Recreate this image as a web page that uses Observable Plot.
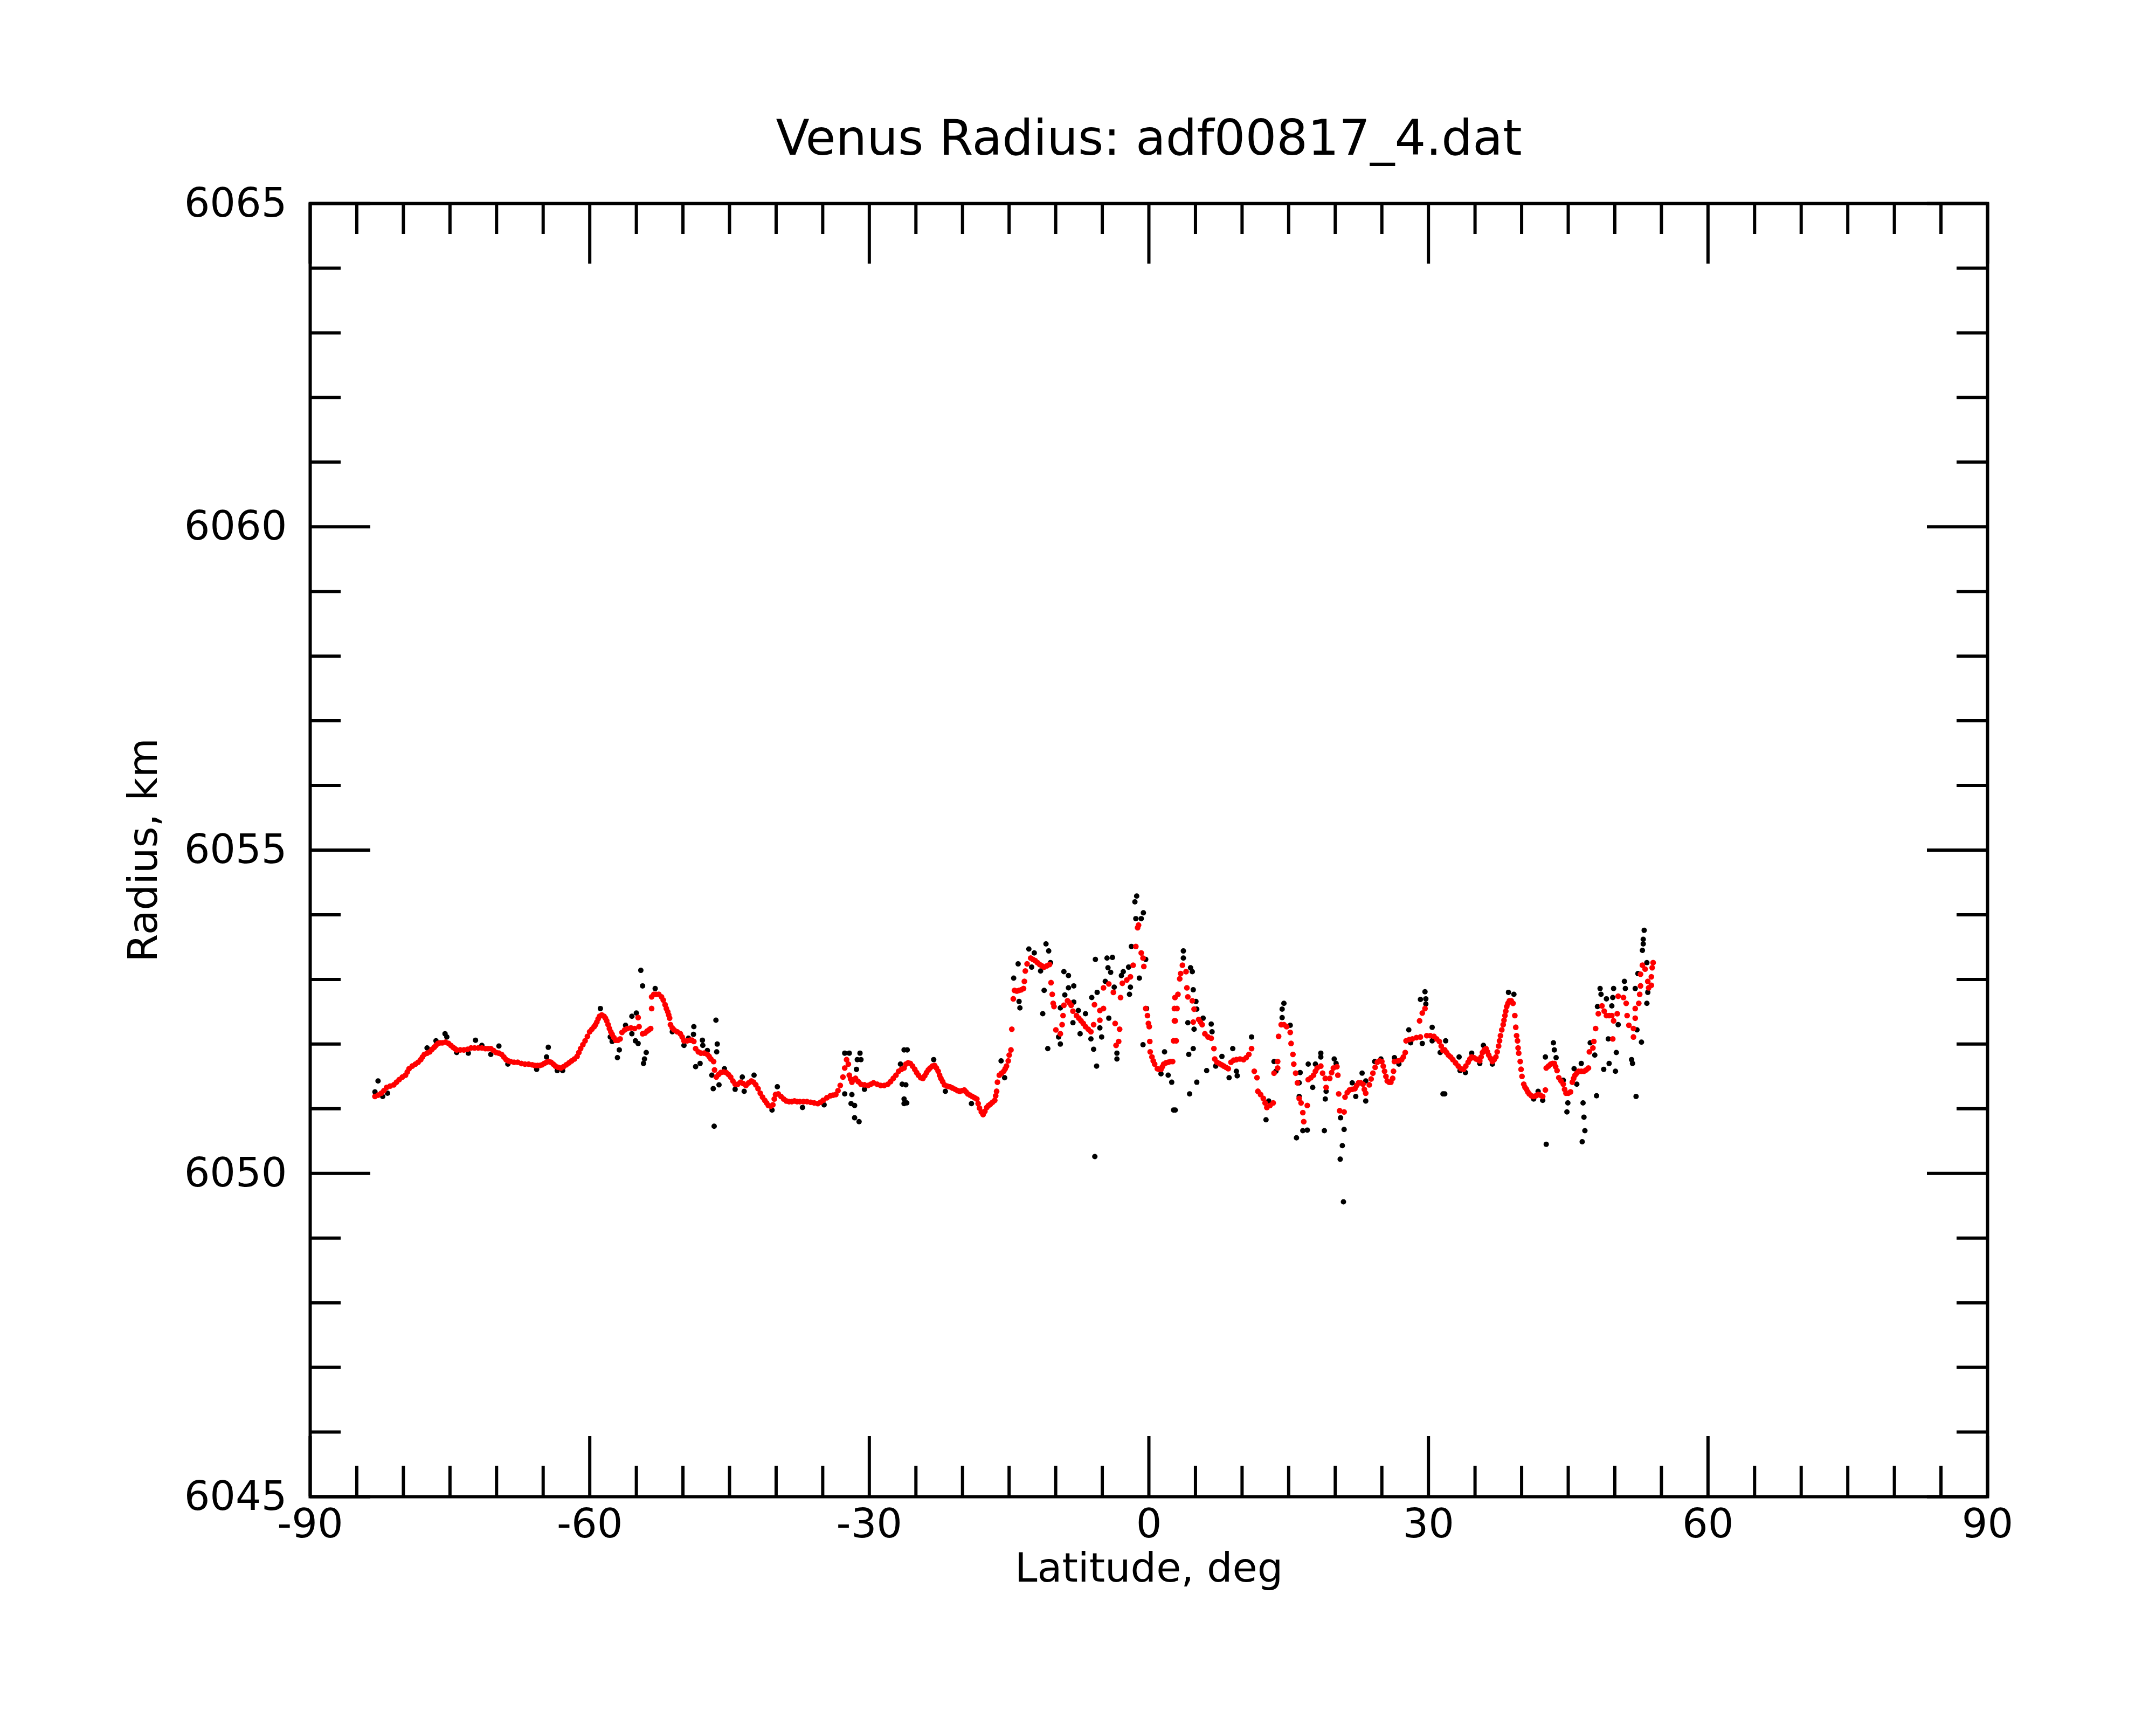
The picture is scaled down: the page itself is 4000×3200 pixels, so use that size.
<!DOCTYPE html>
<html>
<head>
<meta charset="utf-8">
<script src="https://cdn.jsdelivr.net/npm/d3@7"></script>
<script src="https://cdn.jsdelivr.net/npm/@observablehq/plot@0.6"></script>
<style>
  html, body { margin: 0; padding: 0; background: #fff; }
  #chart { width: 4000px; height: 3200px; }
</style>
</head>
<body>
<div id="chart"></div>
<script>
const titleText = "Venus Radius: adf00817_4.dat";
const xLabel = "Latitude, deg";
const yLabel = "Radius, km";

const xMajor = [-90, -60, -30, 0, 30, 60, 90];
const xMinor = [-85, -80, -75, -70, -65, -55, -50, -45, -40, -35, -25, -20, -15, -10, -5, 5, 10, 15, 20, 25, 35, 40, 45, 50, 55, 65, 70, 75, 80, 85];
const yMajor = [6045, 6050, 6055, 6060, 6065];
const yMinor = [6046, 6047, 6048, 6049, 6051, 6052, 6053, 6054, 6056, 6057, 6058, 6059, 6061, 6062, 6063, 6064];

// raw radius samples (black)
const blackPoints = [
  [-82.72, 6051.43], [-83.05, 6051.26], [-82.22, 6051.19], [-81.70, 6051.24], [-77.46, 6051.94],
  [-75.53, 6052.16], [-75.34, 6052.11], [-76.50, 6052.05], [-74.28, 6051.87], [-73.03, 6051.86],
  [-72.26, 6052.06], [-71.58, 6051.98], [-69.75, 6051.97], [-70.62, 6051.84], [-68.79, 6051.69],
  [-65.70, 6051.61], [-64.45, 6051.95], [-64.64, 6051.80], [-63.49, 6051.59], [-62.91, 6051.59],
  [-58.86, 6052.55], [-57.80, 6052.11], [-57.60, 6052.04], [-56.83, 6051.91], [-57.03, 6051.79],
  [-55.48, 6052.43], [-56.16, 6052.29], [-55.48, 6052.16], [-55.10, 6052.05],
  [-54.52, 6053.14], [-54.33, 6052.90], [-54.81, 6052.01], [-53.94, 6051.87], [-54.13, 6051.77],
  [-54.23, 6051.70], [-55.00, 6052.48], [-52.98, 6052.86], [-51.14, 6052.19], [-48.83, 6052.27],
  [-48.87, 6052.15], [-49.41, 6052.09], [-49.89, 6051.98], [-47.91, 6052.06], [-47.87, 6051.98],
  [-48.16, 6051.70], [-48.64, 6051.65], [-47.38, 6051.90], [-46.46, 6052.37], [-46.32, 6052.00],
  [-46.38, 6051.88], [-46.90, 6051.52], [-46.75, 6051.31], [-46.13, 6051.37], [-46.65, 6050.73],
  [-45.55, 6051.62], [-43.63, 6051.49], [-42.37, 6051.52], [-44.40, 6051.30], [-43.43, 6051.27],
  [-40.44, 6050.98], [-39.87, 6051.34], [-37.17, 6051.02], [-34.85, 6051.06], [-32.64, 6051.86],
  [-32.15, 6051.86], [-31.00, 6051.86], [-31.29, 6051.76], [-30.90, 6051.76], [-31.38, 6051.61],
  [-32.64, 6051.23], [-31.87, 6051.22], [-31.96, 6051.08], [-31.58, 6051.05], [-31.58, 6050.86],
  [-31.10, 6050.80], [-30.52, 6051.30], [-26.66, 6051.69], [-26.27, 6051.91], [-26.47, 6051.38],
  [-26.27, 6051.15], [-26.27, 6051.08],
  [-25.93, 6051.91], [-26.08, 6051.37], [-25.98, 6051.09], [-23.09, 6051.76], [-21.84, 6051.27],
  [-19.04, 6051.08], [-15.86, 6051.74], [-15.48, 6051.48], [-14.51, 6053.02], [-14.03, 6053.24],
  [-12.88, 6053.47], [-12.30, 6053.41], [-11.04, 6053.55], [-10.75, 6053.44], [-12.58, 6053.19],
  [-11.62, 6053.13], [-10.56, 6053.26], [-13.93, 6052.66], [-13.84, 6052.56], [-11.24, 6052.83],
  [-11.39, 6052.47], [-10.85, 6051.93], [-9.50, 6052.00], [-9.69, 6052.11], [-9.12, 6053.12],
  [-8.63, 6053.06], [-8.63, 6052.87], [-8.06, 6052.90], [-9.02, 6052.76], [-9.50, 6052.56],
  [-8.06, 6052.65], [-7.57, 6052.52], [-6.80, 6052.47], [-8.15, 6052.33], [-7.38, 6052.16],
  [-6.22, 6052.08], [-5.93, 6051.92], [-5.61, 6051.66], [-5.80, 6050.26], [-5.74, 6053.31],
  [-4.49, 6053.33], [-3.91, 6053.34], [-4.39, 6053.18], [-4.10, 6053.11], [-6.13, 6052.72],
  [-5.55, 6052.80], [-4.30, 6052.40], [-5.26, 6052.25], [-5.07, 6052.11], [-4.68, 6052.97],
  [-3.72, 6052.88], [-2.75, 6053.12], [-2.95, 6053.06], [-1.98, 6052.88], [-2.08, 6052.77],
  [-2.18, 6053.19], [-1.02, 6053.02], [-0.34, 6053.31], [-3.43, 6051.86], [-3.43, 6051.77],
  [-1.88, 6053.51], [-1.31, 6054.29], [-1.50, 6054.20], [-0.59, 6054.03], [-1.40, 6053.94],
  [-0.82, 6053.94], [-0.63, 6051.99], [-0.25, 6052.55], [1.68, 6051.88], [2.07, 6051.52],
  [2.45, 6051.41], [2.65, 6050.98], [1.30, 6051.54],
  [3.70, 6053.44], [3.70, 6053.33], [4.66, 6053.12], [4.47, 6053.18], [4.76, 6052.84],
  [5.05, 6052.66], [5.14, 6052.54], [5.82, 6052.40], [6.69, 6052.31], [6.78, 6052.19],
  [4.18, 6052.33], [4.85, 6052.23], [4.76, 6051.93], [4.28, 6051.84], [6.20, 6051.59],
  [5.14, 6051.41], [4.37, 6051.23], [2.83, 6050.98], [7.17, 6051.66], [7.84, 6051.81],
  [9.00, 6051.93], [9.39, 6051.58], [9.48, 6051.51], [8.61, 6051.48], [11.02, 6052.11],
  [12.57, 6050.83], [12.86, 6051.12], [13.43, 6051.73], [13.63, 6051.58], [14.49, 6052.63],
  [14.30, 6052.54], [14.30, 6052.41], [15.17, 6052.29], [16.23, 6051.56], [16.13, 6051.40],
  [15.84, 6050.55], [16.52, 6050.66], [17.00, 6050.67], [16.13, 6051.19], [17.10, 6051.69],
  [17.87, 6051.69], [18.45, 6051.86], [18.45, 6051.80], [17.58, 6051.33], [19.02, 6051.27],
  [18.93, 6051.15], [18.83, 6050.66], [19.89, 6051.77], [20.09, 6051.70], [20.57, 6050.86],
  [20.95, 6050.68], [20.76, 6050.43], [20.53, 6050.22], [20.88, 6049.56], [21.82, 6051.40],
  [22.20, 6051.19], [22.88, 6051.55], [23.27, 6051.12], [23.27, 6051.43], [24.23, 6051.73],
  [24.90, 6051.77], [26.35, 6051.79], [26.83, 6051.69], [27.89, 6052.22], [28.09, 6052.02],
  [29.14, 6052.69], [29.63, 6052.81], [29.72, 6052.70], [29.72, 6052.62], [29.34, 6052.01],
  [30.40, 6052.26], [30.40, 6052.05], [31.26, 6051.87], [31.56, 6051.23],
  [31.75, 6051.23], [31.85, 6052.05], [33.29, 6051.80], [33.39, 6051.59], [33.97, 6051.56],
  [34.64, 6051.86], [35.90, 6051.98], [36.86, 6051.69], [35.51, 6051.70], [38.59, 6052.80],
  [39.17, 6052.77], [41.29, 6051.15], [41.77, 6051.27], [42.26, 6051.13], [42.64, 6050.45],
  [42.55, 6051.80], [43.41, 6052.02], [43.51, 6051.91], [43.70, 6051.79], [44.47, 6051.44],
  [45.92, 6051.38], [44.96, 6051.09], [44.86, 6050.95], [45.63, 6051.62], [46.40, 6051.70],
  [46.59, 6051.09], [46.69, 6050.87], [46.79, 6050.66], [46.50, 6050.49], [48.04, 6051.20],
  [47.85, 6051.83], [47.36, 6052.02], [48.42, 6052.86], [48.52, 6052.77], [49.10, 6052.70],
  [48.14, 6052.58], [49.87, 6052.86], [49.78, 6052.72], [49.68, 6052.59], [50.36, 6052.30],
  [49.30, 6052.08], [48.81, 6051.61], [49.39, 6051.70], [50.16, 6051.87], [50.07, 6051.58],
  [51.03, 6052.97], [51.13, 6052.86], [52.19, 6052.86], [51.80, 6051.76], [51.90, 6051.70],
  [52.28, 6051.19], [52.86, 6052.03], [52.38, 6052.22], [53.15, 6053.76], [53.05, 6053.62],
  [53.05, 6053.55], [52.96, 6053.45], [53.44, 6053.26], [53.44, 6052.63], [53.54, 6052.80],
  [52.48, 6053.09]
];

// filtered radius (red)
const redPoints = [
  [-83.05, 6051.19], [-82.38, 6051.24], [-81.80, 6051.33], [-81.03, 6051.37], [-80.45, 6051.45],
  [-79.77, 6051.52], [-79.39, 6051.62], [-78.71, 6051.69], [-78.14, 6051.76], [-77.75, 6051.84],
  [-77.17, 6051.88], [-76.69, 6051.95], [-76.30, 6052.01], [-75.82, 6052.02], [-75.15, 6052.01],
  [-74.67, 6051.95], [-74.28, 6051.91], [-73.51, 6051.91], [-72.74, 6051.94], [-71.97, 6051.94],
  [-71.20, 6051.93], [-70.62, 6051.93], [-70.04, 6051.87], [-69.46, 6051.84], [-68.98, 6051.76],
  [-68.50, 6051.73], [-67.73, 6051.72], [-66.95, 6051.69], [-66.18, 6051.68], [-65.61, 6051.67],
  [-65.12, 6051.68], [-64.64, 6051.72], [-64.16, 6051.72], [-63.68, 6051.66], [-63.10, 6051.63],
  [-62.52, 6051.68], [-61.94, 6051.74], [-61.36, 6051.81], [-60.98, 6051.93], [-60.50, 6052.05],
  [-60.01, 6052.19], [-59.53, 6052.27], [-59.24, 6052.34], [-58.95, 6052.43], [-58.47, 6052.43],
  [-58.18, 6052.36], [-57.89, 6052.24], [-57.60, 6052.15], [-57.22, 6052.06], [-56.74, 6052.08],
  [-56.54, 6052.18], [-55.96, 6052.24], [-55.19, 6052.24],
  [-82.72, 6051.21], [-82.09, 6051.28], [-81.42, 6051.35], [-80.74, 6051.41], [-80.11, 6051.49],
  [-79.58, 6051.57], [-79.05, 6051.66], [-78.42, 6051.72], [-77.95, 6051.80], [-77.46, 6051.86],
  [-76.93, 6051.92], [-76.50, 6051.98], [-76.06, 6052.02], [-75.48, 6052.03], [-74.91, 6051.98],
  [-74.48, 6051.93], [-73.90, 6051.91], [-73.12, 6051.92], [-72.36, 6051.94], [-71.58, 6051.94],
  [-70.91, 6051.93], [-70.33, 6051.90], [-69.75, 6051.86], [-69.22, 6051.80], [-68.74, 6051.74],
  [-68.12, 6051.72], [-67.34, 6051.70], [-66.56, 6051.69], [-65.90, 6051.67], [-65.37, 6051.67],
  [-64.88, 6051.70], [-64.40, 6051.73], [-63.92, 6051.69], [-63.39, 6051.64], [-62.81, 6051.65],
  [-62.23, 6051.71], [-61.65, 6051.77], [-61.17, 6051.87], [-60.74, 6051.99], [-60.25, 6052.12],
  [-59.77, 6052.23], [-59.38, 6052.30], [-59.10, 6052.39], [-58.71, 6052.45], [-58.32, 6052.40],
  [-58.03, 6052.30], [-57.74, 6052.19], [-57.41, 6052.10], [-56.98, 6052.06], [-56.25, 6052.22],
  [-55.58, 6052.25],
  [-54.81, 6052.41], [-54.71, 6052.27], [-54.33, 6052.16], [-53.84, 6052.20], [-53.46, 6052.24],
  [-53.36, 6052.55], [-53.36, 6052.73], [-52.88, 6052.77], [-52.30, 6052.73], [-51.92, 6052.61],
  [-51.63, 6052.50], [-51.43, 6052.40], [-51.34, 6052.30], [-50.95, 6052.22], [-50.28, 6052.16],
  [-49.89, 6052.05], [-49.22, 6052.06], [-48.83, 6052.04], [-48.64, 6051.93], [-48.06, 6051.86],
  [-47.38, 6051.84], [-47.00, 6051.77], [-46.71, 6051.73], [-46.61, 6051.60], [-46.42, 6051.49],
  [-45.94, 6051.56], [-45.36, 6051.56], [-44.88, 6051.49], [-44.40, 6051.38], [-43.82, 6051.41],
  [-43.24, 6051.36], [-42.66, 6051.43], [-42.18, 6051.37], [-41.70, 6051.24], [-41.22, 6051.13],
  [-40.83, 6051.05], [-40.35, 6051.06], [-40.06, 6051.22], [-39.77, 6051.23], [-39.19, 6051.15],
  [-38.61, 6051.11], [-38.03, 6051.12], [-37.46, 6051.11], [-36.69, 6051.11], [-35.91, 6051.09],
  [-35.53, 6051.08], [-34.95, 6051.13], [-34.18, 6051.20], [-33.60, 6051.22], [-33.12, 6051.36],
  [-32.83, 6051.49], [-32.64, 6051.63], [-32.44, 6051.76], [-32.25, 6051.69], [-32.15, 6051.52],
  [-31.87, 6051.41], [-31.48, 6051.47], [-30.90, 6051.38], [-30.13, 6051.36], [-29.55, 6051.40],
  [-28.78, 6051.36], [-28.01, 6051.38], [-27.43, 6051.47], [-26.85, 6051.58], [-26.27, 6051.63],
  [-54.08, 6052.17], [-53.65, 6052.22], [-53.12, 6052.77], [-52.59, 6052.77], [-52.11, 6052.68],
  [-51.78, 6052.55], [-51.53, 6052.45], [-51.15, 6052.25], [-50.62, 6052.19], [-50.08, 6052.11],
  [-49.55, 6052.05], [-49.02, 6052.06], [-48.35, 6051.88], [-47.72, 6051.86], [-47.19, 6051.81],
  [-46.18, 6051.53], [-45.65, 6051.57], [-45.12, 6051.53], [-44.64, 6051.43], [-44.11, 6051.38],
  [-43.53, 6051.39], [-42.95, 6051.40], [-42.42, 6051.41], [-41.94, 6051.31], [-41.46, 6051.18],
  [-41.02, 6051.09], [-40.59, 6051.04], [-40.20, 6051.15], [-39.48, 6051.19], [-38.90, 6051.12],
  [-38.32, 6051.11], [-37.75, 6051.11], [-37.07, 6051.11], [-36.30, 6051.10], [-35.24, 6051.10],
  [-34.56, 6051.17], [-33.89, 6051.21], [-33.36, 6051.28], [-32.01, 6051.46], [-31.68, 6051.45],
  [-31.19, 6051.42], [-30.52, 6051.37], [-29.84, 6051.38], [-29.16, 6051.38], [-28.40, 6051.36],
  [-27.72, 6051.42], [-27.14, 6051.52], [-26.56, 6051.61],
  [-26.08, 6051.69], [-25.60, 6051.70], [-25.12, 6051.61], [-24.73, 6051.52], [-24.25, 6051.47],
  [-23.86, 6051.56], [-23.48, 6051.63], [-22.99, 6051.67], [-22.61, 6051.58], [-22.32, 6051.47],
  [-21.94, 6051.37], [-21.36, 6051.34], [-20.78, 6051.30], [-20.30, 6051.27], [-19.81, 6051.29],
  [-19.43, 6051.23], [-18.95, 6051.19], [-18.46, 6051.15], [-18.18, 6051.01], [-17.79, 6050.91],
  [-17.40, 6051.02], [-17.02, 6051.07], [-16.54, 6051.13], [-16.34, 6051.27], [-16.25, 6051.41],
  [-16.05, 6051.52], [-15.57, 6051.58], [-15.28, 6051.66], [-15.09, 6051.74], [-14.99, 6051.83],
  [-14.80, 6051.91], [-14.71, 6052.23], [-14.55, 6052.70], [-14.42, 6052.83], [-13.93, 6052.83],
  [-13.45, 6052.86], [-13.36, 6052.97], [-13.26, 6053.13], [-13.07, 6053.24], [-12.68, 6053.33],
  [-12.20, 6053.29], [-11.72, 6053.23], [-11.24, 6053.19], [-10.66, 6053.23], [-10.50, 6052.95],
  [-10.37, 6052.77], [-10.27, 6052.63], [-10.18, 6052.58], [-9.98, 6052.22], [-9.50, 6052.16],
  [-9.31, 6052.30], [-9.21, 6052.44], [-9.12, 6052.60], [-8.73, 6052.67], [-8.34, 6052.60],
  [-8.15, 6052.51], [-7.77, 6052.44], [-7.28, 6052.36], [-6.80, 6052.27], [-6.22, 6052.19],
  [-5.93, 6052.30], [-5.84, 6052.61], [-5.26, 6052.52], [-4.87, 6052.55], [-5.26, 6052.37],
  [-4.87, 6052.87], [-4.30, 6052.93], [-3.81, 6052.80], [-3.62, 6052.32], [-3.14, 6052.23],
  [-3.24, 6052.04], [-3.52, 6051.98], [-3.04, 6052.72], [-2.85, 6052.94], [-2.37, 6052.99],
  [-1.98, 6053.04], [-1.69, 6053.22], [-1.40, 6053.51], [-0.82, 6053.41], [-0.63, 6053.33],
  [-0.54, 6053.20], [-1.21, 6053.80], [-1.11, 6053.84], [-0.34, 6052.55], [-0.15, 6052.44],
  [-0.05, 6052.32], [0.04, 6052.27], [0.10, 6052.04], [0.14, 6051.88], [0.33, 6051.80],
  [0.62, 6051.69], [0.91, 6051.62], [1.30, 6051.61], [1.59, 6051.69], [2.07, 6051.72],
  [2.55, 6051.73], [2.74, 6052.36], [2.74, 6052.55], [2.80, 6052.72], [2.65, 6052.05],
  [-25.84, 6051.71], [-25.36, 6051.66], [-24.92, 6051.56], [-24.49, 6051.48], [-24.05, 6051.51],
  [-23.67, 6051.60], [-23.23, 6051.66], [-22.80, 6051.63], [-22.46, 6051.52], [-22.13, 6051.42],
  [-21.65, 6051.35], [-21.07, 6051.32], [-20.54, 6051.28], [-20.05, 6051.28], [-19.62, 6051.26],
  [-19.19, 6051.21], [-18.70, 6051.17], [-18.32, 6051.08], [-17.98, 6050.95], [-17.60, 6050.96],
  [-17.21, 6051.05], [-16.78, 6051.10], [-16.44, 6051.20], [-15.81, 6051.55], [-15.42, 6051.62],
  [-14.17, 6052.82], [-13.69, 6052.84], [-12.44, 6053.31], [-11.96, 6053.26], [-11.48, 6053.21],
  [-10.95, 6053.21], [-8.53, 6052.64], [-7.52, 6052.40], [-7.04, 6052.32], [-6.51, 6052.23],
  [0.47, 6051.74], [1.10, 6051.61], [1.45, 6051.65], [1.83, 6051.71], [2.31, 6051.73],
  [2.93, 6052.05], [2.83, 6052.36], [3.02, 6052.55], [3.12, 6052.77], [3.31, 6053.01],
  [3.41, 6053.09], [3.60, 6053.22], [3.99, 6053.12], [4.08, 6052.87], [4.18, 6052.73],
  [4.66, 6052.67], [4.85, 6052.54], [4.76, 6052.34], [5.34, 6052.38], [5.72, 6052.30],
  [6.01, 6052.16], [6.69, 6052.09], [6.98, 6051.93], [7.07, 6051.77], [7.55, 6051.70],
  [8.04, 6051.66], [8.52, 6051.62], [8.81, 6051.72], [9.39, 6051.76], [10.16, 6051.76],
  [10.73, 6051.84], [11.02, 6051.93], [11.31, 6051.58], [11.60, 6051.48], [11.70, 6051.27],
  [12.28, 6051.16], [12.66, 6051.02], [13.34, 6051.09], [13.43, 6051.55], [13.82, 6051.63],
  [13.82, 6051.73], [13.92, 6052.12], [14.20, 6052.30], [14.78, 6052.27], [15.17, 6052.18],
  [15.26, 6052.01], [15.46, 6051.84], [15.55, 6051.69], [15.75, 6051.55], [15.94, 6051.40],
  [16.13, 6051.16], [16.33, 6051.09], [17.00, 6051.05], [16.52, 6050.94], [16.62, 6050.80],
  [17.10, 6051.45], [17.67, 6051.52], [18.06, 6051.63], [18.45, 6051.66], [18.64, 6051.55],
  [18.93, 6051.47], [19.02, 6051.33], [19.41, 6051.47], [19.80, 6051.63], [20.18, 6051.65],
  [20.28, 6051.52], [20.37, 6051.23], [20.47, 6050.97], [20.95, 6050.95], [21.05, 6051.18],
  [21.53, 6051.29], [22.11, 6051.31], [22.50, 6051.40], [22.98, 6051.38], [23.27, 6051.24],
  [23.65, 6051.37], [24.04, 6051.55], [24.52, 6051.72], [25.00, 6051.73], [25.29, 6051.58],
  [25.58, 6051.43], [25.97, 6051.41], [26.16, 6051.47], [26.25, 6051.58], [26.35, 6051.73],
  [27.12, 6051.76], [27.51, 6051.87], [27.60, 6052.05], [28.28, 6052.08], [29.14, 6052.11],
  [29.05, 6052.36], [29.34, 6052.48], [29.63, 6052.55], [29.82, 6052.13], [30.59, 6052.12],
  [31.17, 6052.04], [31.56, 6051.90],
  [5.53, 6052.34], [6.35, 6052.11], [7.31, 6051.72], [7.80, 6051.68], [8.28, 6051.64],
  [9.10, 6051.75], [9.78, 6051.77], [10.45, 6051.79], [11.99, 6051.22], [12.47, 6051.09],
  [13.00, 6051.05], [14.49, 6052.30], [17.39, 6051.48], [17.87, 6051.58], [19.61, 6051.56],
  [21.29, 6051.25], [21.82, 6051.30], [22.30, 6051.36], [22.74, 6051.40], [23.12, 6051.30],
  [23.85, 6051.46], [24.28, 6051.64], [24.76, 6051.74], [25.15, 6051.66], [25.44, 6051.50],
  [25.78, 6051.41], [26.74, 6051.74], [27.31, 6051.80], [27.94, 6052.07], [28.71, 6052.10],
  [30.20, 6052.13], [30.88, 6052.08], [31.37, 6051.97],
  [31.75, 6051.91], [32.14, 6051.83], [32.62, 6051.76], [33.20, 6051.66], [33.77, 6051.61],
  [34.26, 6051.72], [34.64, 6051.80], [35.12, 6051.77], [35.51, 6051.74], [35.80, 6051.87],
  [36.18, 6051.93], [36.47, 6051.83], [36.86, 6051.73], [37.24, 6051.80], [37.53, 6051.97],
  [37.73, 6052.13], [38.02, 6052.30], [38.21, 6052.44], [38.40, 6052.58], [38.69, 6052.67],
  [39.08, 6052.63], [39.27, 6052.44], [39.37, 6052.26], [39.46, 6052.13], [39.56, 6052.05],
  [39.62, 6051.94], [39.69, 6051.86], [39.85, 6051.73], [39.94, 6051.61], [40.04, 6051.50],
  [40.23, 6051.38], [40.52, 6051.30], [40.81, 6051.23], [41.29, 6051.19], [41.77, 6051.22],
  [42.26, 6051.19], [42.55, 6051.29], [42.64, 6051.63], [43.12, 6051.69], [43.51, 6051.70],
  [43.80, 6051.59], [43.99, 6051.48], [44.47, 6051.38], [44.76, 6051.24], [45.25, 6051.26],
  [45.44, 6051.41], [45.73, 6051.52], [46.11, 6051.58], [46.69, 6051.58], [47.17, 6051.63],
  [47.27, 6051.88], [47.65, 6051.94], [47.75, 6052.04], [47.94, 6052.24], [48.23, 6052.47],
  [48.62, 6052.59], [49.10, 6052.44], [49.68, 6052.44], [50.26, 6052.47], [49.87, 6052.36],
  [49.78, 6052.08], [50.36, 6052.74], [50.93, 6052.72], [51.22, 6052.63], [51.32, 6052.44],
  [51.51, 6052.29], [52.00, 6052.24], [52.00, 6052.11], [52.19, 6052.40], [52.19, 6052.55],
  [52.57, 6052.63], [52.67, 6052.77], [52.76, 6052.90], [52.76, 6053.08], [52.96, 6053.22],
  [53.25, 6053.16], [53.54, 6052.97], [53.92, 6052.91], [53.92, 6053.04], [54.01, 6053.18],
  [54.11, 6053.26], [53.63, 6052.87],
  [31.95, 6051.87], [32.38, 6051.80], [32.91, 6051.71], [33.49, 6051.62], [34.01, 6051.66],
  [34.45, 6051.77], [34.88, 6051.79], [35.31, 6051.76], [35.65, 6051.80], [35.99, 6051.91],
  [36.33, 6051.88], [36.66, 6051.78], [37.05, 6051.76], [37.38, 6051.88], [37.63, 6052.05],
  [37.87, 6052.22], [38.11, 6052.37], [38.30, 6052.51], [38.54, 6052.63], [38.88, 6052.67],
  [40.37, 6051.33], [40.66, 6051.26], [41.05, 6051.20], [41.53, 6051.20], [42.01, 6051.21],
  [42.88, 6051.66], [43.31, 6051.70], [43.65, 6051.65], [44.23, 6051.43], [44.61, 6051.30],
  [45.00, 6051.24], [45.58, 6051.47], [45.92, 6051.55], [46.40, 6051.58], [46.93, 6051.60],
  [48.86, 6052.51], [49.39, 6052.44]
];

const W = 4000, H = 3200;
const mL = 575, mR = 313, mT = 377, mB = 424;
const frameH = H - mT - mB;
const frameW = W - mL - mR;
const minorLen = 57, majorLen = 112, tickW = 6;

const chart = Plot.plot({
  width: W,
  height: H,
  marginLeft: mL,
  marginRight: mR,
  marginTop: mT,
  marginBottom: mB,
  style: {fontFamily: "DejaVu Sans", fontSize: "75px", background: "#fff", color: "#000"},
  x: {domain: [-90, 90], label: null},
  y: {domain: [6045, 6065], label: null},
  marks: [
    Plot.dot(blackPoints, {x: d => d[0], y: d => d[1], r: 5, fill: "black", stroke: "none"}),
    Plot.dot(redPoints, {x: d => d[0], y: d => d[1], r: 5.3, fill: "red", stroke: "none"}),
    // inward ticks, bottom and top
    Plot.ruleX(xMinor, {insetTop: frameH - minorLen, strokeWidth: tickW}),
    Plot.ruleX(xMinor, {insetBottom: frameH - minorLen, strokeWidth: tickW}),
    Plot.ruleX(xMajor, {insetTop: frameH - majorLen, strokeWidth: tickW}),
    Plot.ruleX(xMajor, {insetBottom: frameH - majorLen, strokeWidth: tickW}),
    // inward ticks, left and right
    Plot.ruleY(yMinor, {insetRight: frameW - minorLen, strokeWidth: tickW}),
    Plot.ruleY(yMinor, {insetLeft: frameW - minorLen, strokeWidth: tickW}),
    Plot.ruleY(yMajor, {insetRight: frameW - majorLen, strokeWidth: tickW}),
    Plot.ruleY(yMajor, {insetLeft: frameW - majorLen, strokeWidth: tickW}),
    Plot.frame({stroke: "black", strokeWidth: 6}),
    Plot.axisX(xMajor, {anchor: "bottom", tickSize: 0, tickPadding: 22, fontSize: 75, tickFormat: d => String(d), label: null}),
    Plot.axisY(yMajor, {anchor: "left", tickSize: 0, tickPadding: 43, fontSize: 75, tickFormat: d => String(d), label: null}),
    Plot.text([titleText], {frameAnchor: "top", dy: -91, lineAnchor: "bottom", fontSize: 91, fill: "black"}),
    Plot.text([xLabel], {frameAnchor: "bottom", dy: 157, lineAnchor: "bottom", fontSize: 75, fill: "black"}),
    Plot.text([yLabel], {frameAnchor: "left", dx: -309, rotate: -90, textAnchor: "middle", lineAnchor: "middle", fontSize: 75, fill: "black"})
  ]
});
document.getElementById("chart").appendChild(chart);
</script>
</body>
</html>
